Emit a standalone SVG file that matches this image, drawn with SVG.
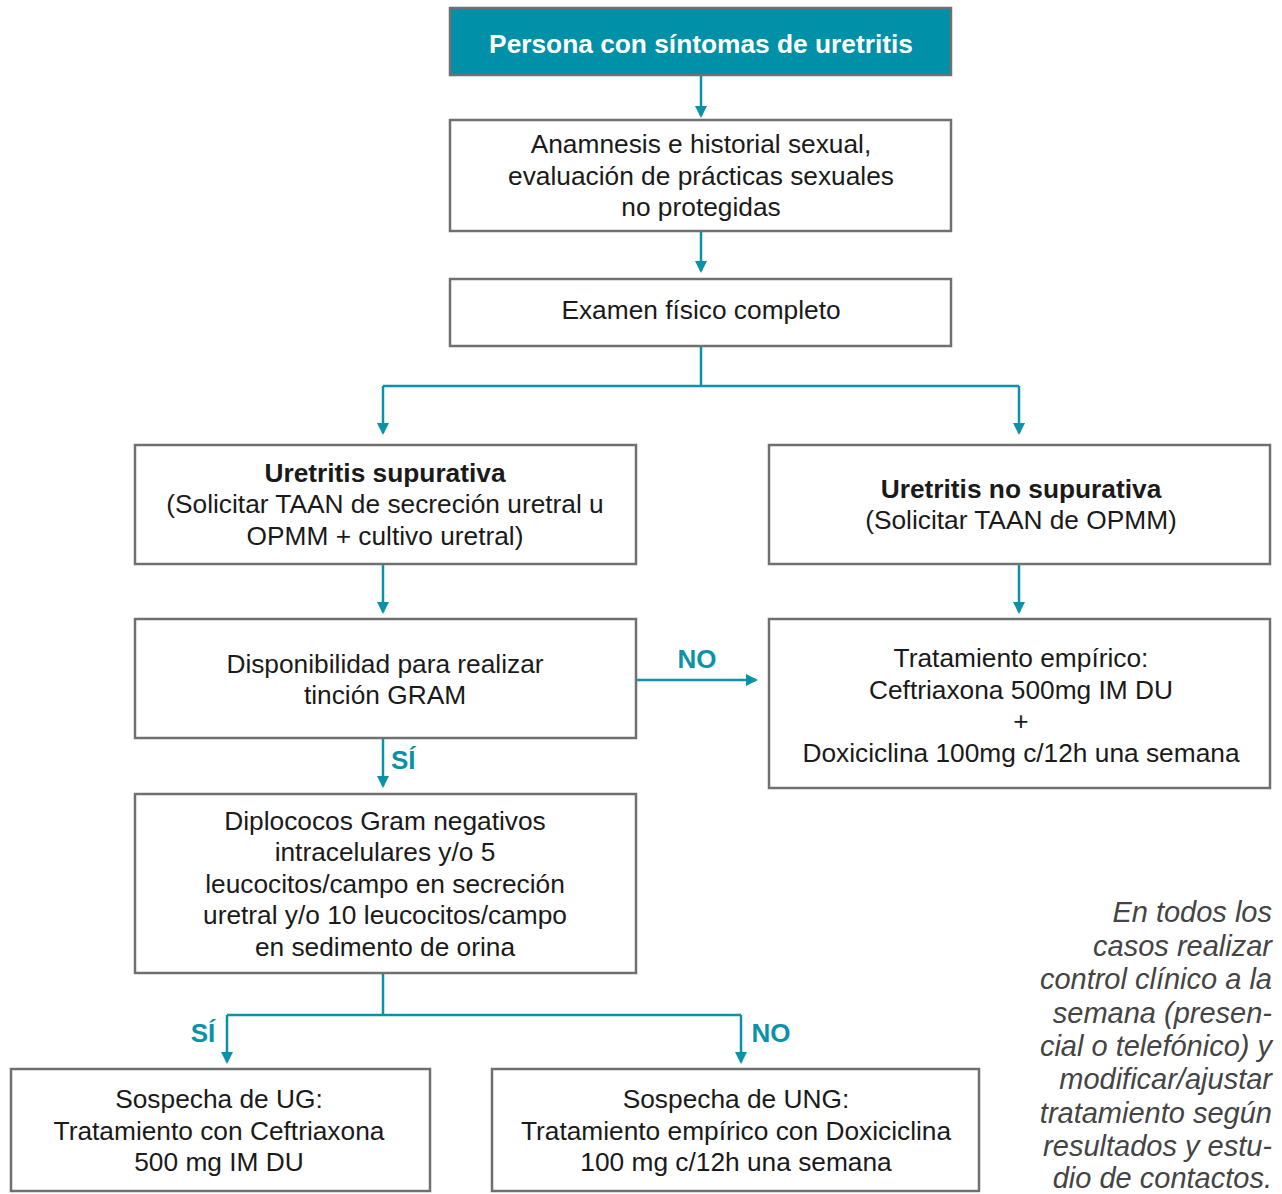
<svg xmlns="http://www.w3.org/2000/svg" width="1282" height="1194" viewBox="0 0 1282 1194">
<style>
.box{fill:#fff;stroke:#707070;stroke-width:2.5}
.t{font-family:"Liberation Sans",Arial,sans-serif;font-size:26.3px;fill:#1a1a1a;text-anchor:middle}
.b{font-weight:bold}
.c{stroke:#0a93a8;stroke-width:2.5;fill:none}
.lab{font-family:"Liberation Sans",Arial,sans-serif;font-size:26px;font-weight:bold;fill:#0a93a8}
.note{font-family:"Liberation Sans",Arial,sans-serif;font-size:29px;font-style:italic;fill:#444;text-anchor:end}
</style>
<defs>
<marker id="ah" markerWidth="12" markerHeight="12" refX="10" refY="6" orient="auto" markerUnits="userSpaceOnUse">
<path d="M0,0 L12,6 L0,12 z" fill="#0a93a8"/>
</marker>
</defs>
<rect width="1282" height="1194" fill="#fff"/>
<g id="connectors">
<path class="c" d="M701,76 V116" marker-end="url(#ah)"/>
<path class="c" d="M701,232 V271" marker-end="url(#ah)"/>
<path class="c" d="M701,347 V386 M383,386 H1019"/>
<path class="c" d="M383,386 V433" marker-end="url(#ah)"/>
<path class="c" d="M1019,386 V433" marker-end="url(#ah)"/>
<path class="c" d="M383,565 V612" marker-end="url(#ah)"/>
<path class="c" d="M1019,565 V612" marker-end="url(#ah)"/>
<path class="c" d="M637,680 H756" marker-end="url(#ah)"/>
<path class="c" d="M383,739 V786" marker-end="url(#ah)"/>
<path class="c" d="M383,974 V1015 M227,1015 H741"/>
<path class="c" d="M227,1015 V1062" marker-end="url(#ah)"/>
<path class="c" d="M741,1015 V1062" marker-end="url(#ah)"/>
<text class="lab" x="697" y="668" text-anchor="middle">NO</text>
<text class="lab" x="391" y="769">SÍ</text>
<text class="lab" x="203" y="1042" text-anchor="middle">SÍ</text>
<text class="lab" x="771" y="1042" text-anchor="middle">NO</text>
</g>
<g id="n1">
<rect x="450" y="8" width="501" height="67" fill="#0090a8" stroke="#707070" stroke-width="2.5"/>
<text class="t b" x="701" y="53" style="fill:#fff">Persona con síntomas de uretritis</text>
</g>
<g id="n2">
<rect class="box" x="450" y="120" width="501" height="111"/>
<text class="t" x="701" y="153">Anamnesis e historial sexual,</text>
<text class="t" x="701" y="185">evaluación de prácticas sexuales</text>
<text class="t" x="701" y="216">no protegidas</text>
</g>
<g id="n3">
<rect class="box" x="450" y="279" width="501" height="67"/>
<text class="t" x="701" y="319">Examen físico completo</text>
</g>
<g id="n4">
<rect class="box" x="135" y="445" width="501" height="119"/>
<text class="t b" x="385" y="482">Uretritis supurativa</text>
<text class="t" x="385" y="513">(Solicitar TAAN de secreción uretral u</text>
<text class="t" x="385" y="545">OPMM + cultivo uretral)</text>
</g>
<g id="n5">
<rect class="box" x="769" y="445" width="501" height="119"/>
<text class="t b" x="1021" y="498">Uretritis no supurativa</text>
<text class="t" x="1021" y="529">(Solicitar TAAN de OPMM)</text>
</g>
<g id="n6">
<rect class="box" x="135" y="619" width="501" height="119"/>
<text class="t" x="385" y="673">Disponibilidad para realizar</text>
<text class="t" x="385" y="704">tinción GRAM</text>
</g>
<g id="n7">
<rect class="box" x="769" y="619" width="501" height="169"/>
<text class="t" x="1021" y="667">Tratamiento empírico:</text>
<text class="t" x="1021" y="699">Ceftriaxona 500mg IM DU</text>
<text class="t" x="1021" y="730">+</text>
<text class="t" x="1021" y="762">Doxiciclina 100mg c/12h una semana</text>
</g>
<g id="n8">
<rect class="box" x="135" y="794" width="501" height="179"/>
<text class="t" x="385" y="830">Diplococos Gram negativos</text>
<text class="t" x="385" y="861">intracelulares y/o 5</text>
<text class="t" x="385" y="893">leucocitos/campo en secreción</text>
<text class="t" x="385" y="924">uretral y/o 10 leucocitos/campo</text>
<text class="t" x="385" y="956">en sedimento de orina</text>
</g>
<g id="n9">
<rect class="box" x="11" y="1069" width="419" height="122"/>
<text class="t" x="219" y="1108">Sospecha de UG:</text>
<text class="t" x="219" y="1140">Tratamiento con Ceftriaxona</text>
<text class="t" x="219" y="1171">500 mg IM DU</text>
</g>
<g id="n10">
<rect class="box" x="492" y="1069" width="487" height="122"/>
<text class="t" x="736" y="1108">Sospecha de UNG:</text>
<text class="t" x="736" y="1140">Tratamiento empírico con Doxiciclina</text>
<text class="t" x="736" y="1171">100 mg c/12h una semana</text>
</g>
<g id="note">
<text class="note" x="1272" y="922">En todos los</text>
<text class="note" x="1272" y="956">casos realizar</text>
<text class="note" x="1272" y="989">control clínico a la</text>
<text class="note" x="1272" y="1023">semana (presen-</text>
<text class="note" x="1272" y="1056">cial o telefónico) y</text>
<text class="note" x="1272" y="1089">modificar/ajustar</text>
<text class="note" x="1272" y="1123">tratamiento según</text>
<text class="note" x="1272" y="1156">resultados y estu-</text>
<text class="note" x="1272" y="1188">dio de contactos.</text>
</g>
</svg>
